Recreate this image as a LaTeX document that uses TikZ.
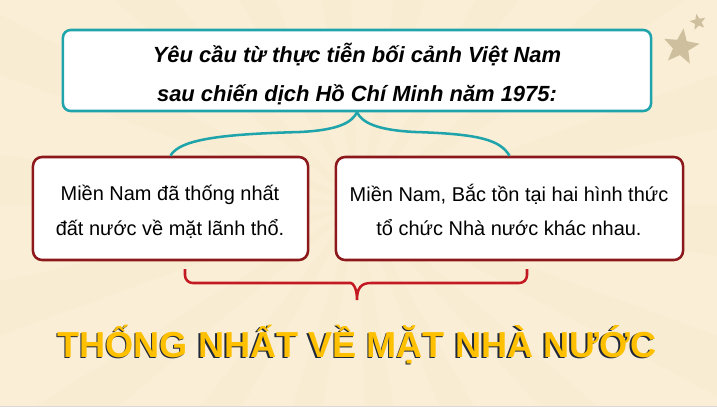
\documentclass[tikz,border=0pt]{standalone}
\usepackage{fontspec}
\setmainfont{Liberation Sans}
\usepackage{tikz}
\usetikzlibrary{shapes.geometric, positioning}
\usepackage{xcolor}

\definecolor{bgcream}{RGB}{250,239,214}
\definecolor{raycream}{RGB}{248,236,210}
\definecolor{tealline}{RGB}{32,164,172}
\definecolor{boxred}{RGB}{140,24,28}
\definecolor{bracered}{RGB}{196,24,34}
\definecolor{titleyellow}{RGB}{255,192,0}
\definecolor{titleshade}{RGB}{32,40,60}
\definecolor{starbeige}{RGB}{206,192,158}

\tikzset{
    topbox/.style={draw=tealline, fill=white, line width=1.8pt, rounded corners=5.5pt,
        minimum width=14.7cm, minimum height=2.025cm, inner sep=0pt},
    redbox/.style={draw=boxred, fill=white, line width=1.8pt, rounded corners=6.5pt,
        minimum height=2.575cm, inner sep=0pt},
    toptext/.style={align=center, font=\fontsize{15.6}{27.6}\selectfont\bfseries\itshape},
    boxtext/.style={align=center, font=\fontsize{14.2}{24.8}\selectfont},
    titletext/.style={anchor=base, font=\fontsize{25.7}{30}\selectfont\bfseries},
    tealbrace/.style={draw=tealline, line width=1.8pt},
    redbrace/.style={draw=bracered, line width=1.8pt},
    deco/.style={star, star points=5, star point ratio=2.3, fill=starbeige, inner sep=0pt}
}

\begin{document}
\begin{tikzpicture}[x=0.025cm, y=-0.025cm]
        % Background with faint rays
        \useasboundingbox (0,0) rectangle (717,407);
        \fill[bgcream] (0,0) rectangle (717,407);
        \begin{scope}
            \clip (0,0) rectangle (717,407);
            \foreach \a in {0,20,...,340}
                \fill[raycream, shift={(358,205)}] (0,0) -- (\a:900) -- (\a+8:900) -- cycle;
        \end{scope}
        \fill[gray!30] (0,405.5) rectangle (717,407);

        % Stars in the corner
        \node[deco, minimum size=0.94cm, rotate=-8] (bigstar) at (681,47) {};
        \node[deco, minimum size=0.42cm, rotate=12] (smallstar) at (698,22) {};

        % Boxes
        \node[topbox] (tbox) at (357,70.5) {};
        \node[redbox, minimum width=6.875cm] (lbox) at (170.5,208.5) {};
        \node[redbox, minimum width=8.675cm] (rbox) at (509.5,208.5) {};

        % Texts in the boxes
        \node[toptext] (ttext) at (357,74) {Yêu cầu từ thực tiễn bối cảnh Việt Nam\\sau chiến dịch Hồ Chí Minh năm 1975:};
        \node[boxtext] (ltext) at (170,212) {Miền Nam đã thống nhất\\đất nước về mặt lãnh thổ.};
        \node[boxtext] (rtext) at (509,210) {Miền Nam, Bắc tồn tại hai hình thức\\tổ chức Nhà nước khác nhau.};

        % Upper brace
        \draw[tealbrace] (lbox.north) .. controls (180,138) and (230,134) .. (300,132)
            .. controls (340,130) and (352,122) .. (tbox.south);
        \draw[tealbrace] (tbox.south) .. controls (362,122) and (375,130) .. (415,132)
            .. controls (480,134) and (500,140) .. (rbox.north);

        % Lower brace
        \coordinate (bl) at (185,269);
        \coordinate (br) at (527,269);
        \coordinate (btip) at (357,300);
        \draw[redbrace] (bl) [rounded corners=5.5pt] -- (185,283) -- (343,283) [sharp corners]
            .. controls (353,283) and (357,288) .. (btip)
            .. controls (357,288) and (361,283) .. (371,283) [rounded corners=5.5pt] -- (527,283) -- (br);

        % Title with its shadow
        \node[titletext, text=titleshade] (shade) at (355.5,358.5) {THỐNG NHẤT VỀ MẶT NHÀ NƯỚC};
        \node[titletext, text=titleyellow] (title) at (357,357) {THỐNG NHẤT VỀ MẶT NHÀ NƯỚC};
    \end{tikzpicture}
\end{document}
